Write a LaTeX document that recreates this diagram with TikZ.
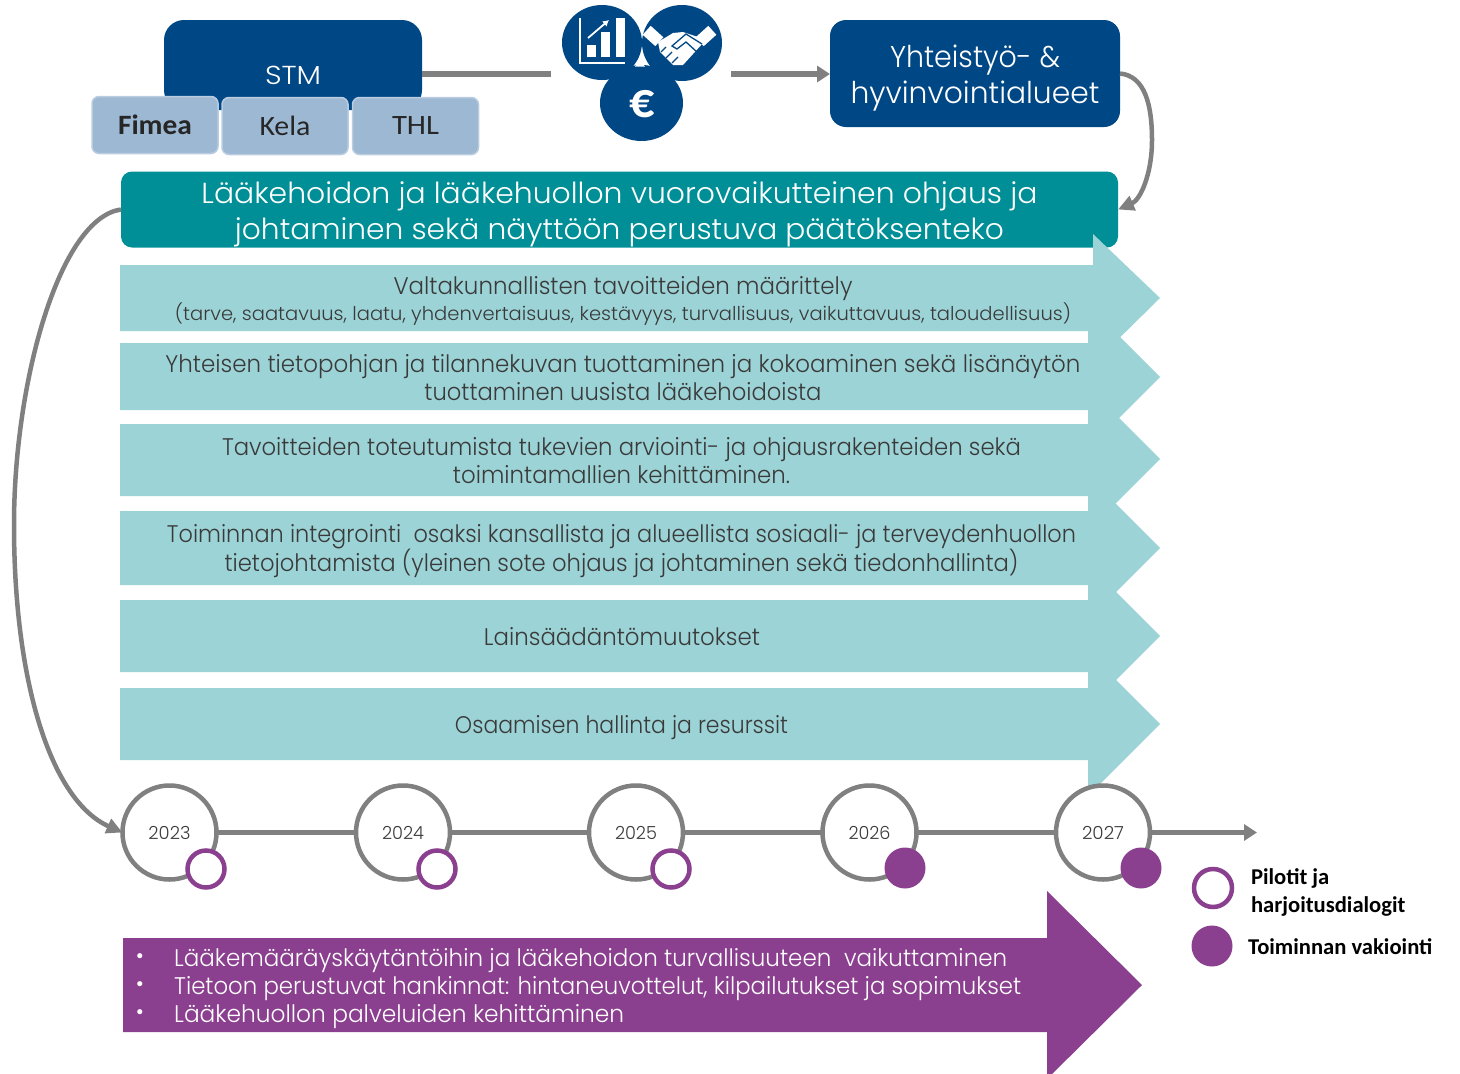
\documentclass[tikz,border=0pt]{standalone}
\usepackage{fontspec}
\usepackage{graphicx}
\setmainfont{Poppins}[UprightFont=* Light]
\newfontfamily\calfont{Carlito}
\definecolor{navy}{HTML}{004785}
\definecolor{tealdark}{HTML}{008F96}
\definecolor{teallight}{HTML}{9CD3D6}
\definecolor{purp}{HTML}{8B3F8F}
\definecolor{grayline}{HTML}{808080}
\definecolor{paleblue}{HTML}{9DB8D3}
\definecolor{txt}{HTML}{3A3A3A}
\newcommand{\fw}[2]{\resizebox{#1pt}{\height}{#2}}
\newcommand{\fsz}[2]{\fontsize{#1}{#2}\selectfont}
\usetikzlibrary{arrows.meta,shapes.geometric}
\tikzset{
  tx/.style={inner sep=0pt,outer sep=0pt,align=center,text=txt},
  smallbox/.style={draw=paleblue!70!white,line width=1.5pt,fill=paleblue,rounded corners=7pt,minimum height=57pt,minimum width=126pt,inner sep=0pt,outer sep=0pt,font=\calfont\fsz{28}{30},text=black!85},
  arrowshape/.style={fill=teallight,draw=none},
  conn/.style={draw=grayline,line width=5.5pt},
  curveconn/.style={draw=grayline,line width=4.5pt,-{Triangle[length=16pt,width=15pt]}},
  yearc/.style={circle,draw=grayline,line width=4.5pt,fill=white,minimum size=94pt,inner sep=0pt,outer sep=0pt,font=\fsz{18}{20},text=txt},
  openc/.style={circle,draw=purp,line width=4.5pt,fill=white,minimum size=37pt,inner sep=0pt},
  fullc/.style={circle,fill=purp,minimum size=41pt,inner sep=0pt},
  navyc/.style={ellipse,fill=navy,inner sep=0pt},
  legendt/.style={inner sep=0pt,outer sep=0pt,align=left,text=black,font=\calfont\bfseries\fsz{22.6}{28}},
  tipg/.style={-{Triangle[length=13pt,width=16pt]}},
}
\begin{document}
\begin{tikzpicture}[x=1pt,y=-1pt]
\useasboundingbox (0,0) rectangle (1460,1074);
\clip (0,0) rectangle (1460,1074);
\fill[white] (0,0) rectangle (1460,1074);

% top left
\node[fill=navy,minimum width=258pt,minimum height=90pt,inner sep=0pt,outer sep=0pt,rounded corners=20pt] (stmbox) at (293,65) {};
\node[inner sep=0,text=white,anchor=mid,font=\fsz{26}{30}] (stm) at (293,82) {\fw{56}{STM}};
\node[smallbox] (fimea) at (155,125) {\fw{74}{\textbf{Fimea}}};
\node[smallbox] (kela) at (285,126) {\fw{51}{Kela}};
\node[smallbox] (thl) at (415.5,126) {\fw{47}{THL}};

% icons
\node[navyc,minimum width=80pt,minimum height=75pt] (ic1) at (602,42.5) {};
\node[navyc,minimum width=80pt,minimum height=76pt] (ic2) at (682,43) {};
\node[navyc,minimum width=83pt,minimum height=76pt] (ic3) at (641.5,103) {};
\fill[white] (635,66.5) -- (640,60) -- (645,66.5) -- cycle;
\node[inner sep=0,text=white,font=\calfont\bfseries\fsz{50}{52}] (euro) at (642,104) {€};
% chart icon
\draw[white,line width=2.4pt] (580,18) -- (580,63) -- (625,63);
\fill[white] (587,45) rectangle (596,57);
\fill[white] (601,32) rectangle (610,57);
\fill[white] (616,18) rectangle (625,57);
\draw[white,line width=1.8pt,-{Latex[length=6pt,width=7pt]}] (588,38) -- (609,20);
% handshake icon
\fill[white,rotate around={48:(653,36)}] (647,27.5) rectangle (659,44.5);
\fill[white,rotate around={-48:(706,36)}] (700,27.5) rectangle (712,44.5);
\fill[white] (658,42) -- (673,33) -- (683,32) -- (698,37) -- (703,43) -- (683,65) -- (673,65) -- (660,52) -- cycle;
\draw[navy,line width=1.3pt] (702,44) -- (686,34) -- (672,46) -- (677,49) -- (686,42) -- (697,52);
\draw[navy,line width=1.2pt] (661,52) -- (666,47) (666,58) -- (672,52) (672,63) -- (678,57);

% right top box
\node[fill=navy,minimum width=290pt,minimum height=107pt,inner sep=0pt,outer sep=0pt,rounded corners=16pt] (yht) at (975,73.5) {};
\node[inner sep=0pt,outer sep=0pt,align=center,text=white,font=\fsz{30}{36}] (yhtt) at (975,78) {\fw{170}{Yhteistyö- \&}\\\fw{249}{hyvinvointialueet}};

% dark teal box
\node[fill=tealdark,minimum width=997pt,minimum height=76pt,inner sep=0pt,outer sep=0pt,rounded corners=11pt] (ohjaus) at (619.5,209.5) {};
\node[inner sep=0pt,outer sep=0pt,align=center,text=white,font=\fsz{29}{36}] (ohjaust) at (619.5,214) {\fw{836}{Lääkehoidon ja lääkehuollon vuorovaikutteinen ohjaus ja}\\\fw{769}{johtaminen sekä näyttöön perustuva päätöksenteko}};

% arrows
\fill[arrowshape] (120,265) -- (1093,265) -- (1093,234) -- (1160,298) -- (1093,364) -- (1093,331) -- (120,331) -- cycle;
\fill[arrowshape] (120,343) -- (1088,343) -- (1088,305) -- (1160,377) -- (1088,449) -- (1088,410) -- (120,410) -- cycle;
\fill[arrowshape] (120,424) -- (1088,424) -- (1088,387) -- (1160,459) -- (1088,531) -- (1088,496) -- (120,496) -- cycle;
\fill[arrowshape] (120,511) -- (1088,511) -- (1088,476) -- (1160,548) -- (1088,620) -- (1088,585) -- (120,585) -- cycle;
\fill[arrowshape] (120,600) -- (1088,600) -- (1088,564) -- (1160,636) -- (1088,708) -- (1088,672) -- (120,672) -- cycle;
\fill[arrowshape] (120,688) -- (1088,688) -- (1088,652) -- (1160,724) -- (1088,796) -- (1088,760) -- (120,760) -- cycle;

\node[tx,font=\fsz{24}{26}] (r1) at (623,301) {\fw{459}{Valtakunnallisten tavoitteiden määrittely}\\\fontsize{19}{26}\selectfont\fw{896}{(tarve, saatavuus, laatu, yhdenvertaisuus, kestävyys, turvallisuus, vaikuttavuus, taloudellisuus)}};
\node[tx,font=\fsz{24}{28}] (r2) at (623,378) {\fw{915}{Yhteisen tietopohjan ja tilannekuvan tuottaminen ja kokoaminen sekä lisänäytön}\\\fw{397}{tuottaminen uusista lääkehoidoista}};
\node[tx,font=\fsz{24}{28}] (r3) at (621.5,461) {\fw{799}{Tavoitteiden toteutumista tukevien arviointi- ja ohjausrakenteiden sekä}\\\fw{337}{toimintamallien kehittäminen.}};
\node[tx,font=\fsz{24}{28}] (r4) at (621.5,551) {\fw{909}{Toiminnan integrointi\ \ osaksi kansallista ja alueellista sosiaali- ja terveydenhuollon}\\\fw{794}{tietojohtamista (yleinen sote ohjaus ja johtaminen sekä tiedonhallinta)}};
\node[tx,font=\fsz{24}{28}] (r5) at (622,637) {\fw{276}{Lainsäädäntömuutokset}};
\node[tx,font=\fsz{24}{28}] (r6) at (621.5,728) {\fw{333}{Osaamisen hallinta ja resurssit}};

% timeline
\node[yearc] (y23) at (169.5,832.5) {\fw{42}{2023}};
\node[yearc] (y24) at (403,832.5) {\fw{42}{2024}};
\node[yearc] (y25) at (636,832.5) {\fw{42}{2025}};
\node[yearc] (y26) at (869.5,832.5) {\fw{42}{2026}};
\node[yearc] (y27) at (1103,832.5) {\fw{42}{2027}};
\coordinate (tlend) at (1257,832.5);
\draw[conn] (y23) -- (y24);
\draw[conn] (y24) -- (y25);
\draw[conn] (y25) -- (y26);
\draw[conn] (y26) -- (y27);
\draw[conn,tipg] (y27) -- (tlend);
\node[openc] (o23) at (206,869) {};
\node[openc] (o24) at (437,869) {};
\node[openc] (o25) at (671,869) {};
\node[fullc] (f26) at (905,868) {};
\node[fullc] (f27) at (1141,868) {};

% connectors
\coordinate (mid1) at (551,74);
\coordinate (mid2) at (731,74);
\draw[conn] (stmbox.east |- mid1) -- (mid1);
\draw[conn,tipg] (mid2) -- (yht.west |- mid2);
\draw[curveconn] (yht.east) .. controls (1145,76) and (1152,105) .. (1152,140) .. controls (1152,175) and (1140,200) .. (ohjaus.east);
\draw[curveconn] (ohjaus.west) .. controls (60,218) and (14,380) .. (14,525) .. controls (14,680) and (50,800) .. (y23.west);

% purple arrow
\fill[purp] (123,938) -- (1047,938) -- (1047,891) -- (1142,985) -- (1047,1079) -- (1047,1032) -- (123,1032) -- cycle;
\node[inner sep=0,anchor=mid,text=white,font=\fsz{22}{24}] (b1) at (140,961) {•};
\node[inner sep=0,anchor=mid,text=white,font=\fsz{22}{24}] (b2) at (140,989) {•};
\node[inner sep=0,anchor=mid,text=white,font=\fsz{22}{24}] (b3) at (140,1017) {•};
\node[inner sep=0,anchor=west,align=left,text=white,font=\fsz{24}{28}] (ptext) at (174,989) {\fw{833}{Lääkemääräyskäytäntöihin ja lääkehoidon turvallisuuteen\ \ vaikuttaminen}\\\fw{847}{Tietoon perustuvat hankinnat: hintaneuvottelut, kilpailutukset ja sopimukset}\\\fw{450}{Lääkehuollon palveluiden kehittäminen}};

% legend
\node[openc,minimum size=38pt] (lo) at (1213,888) {};
\node[fullc] (lf) at (1212,946) {};
\node[legendt,anchor=west] (l1) at (1251,892) {Pilotit ja\\harjoitusdialogit};
\node[legendt,anchor=west] (l2) at (1248,947) {Toiminnan vakiointi};
\end{tikzpicture}
\end{document}
